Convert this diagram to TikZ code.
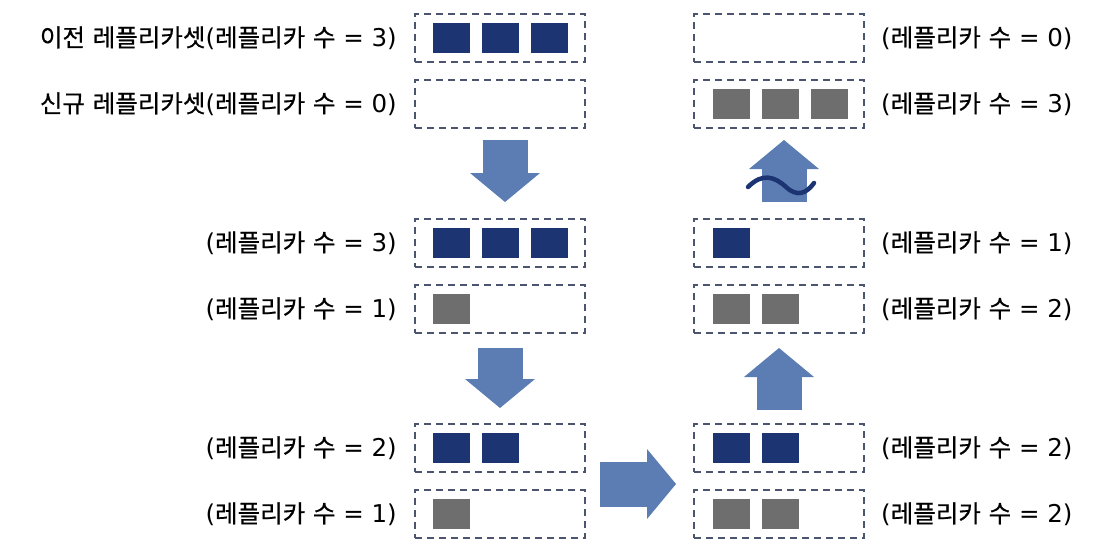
\documentclass[tikz,border=0pt]{standalone}
\usepackage{fontspec}
\setmainfont{DejaVu Sans}
\newfontfamily\krfont{Noto Sans CJK KR}[FakeBold=0.5]
\usepackage{tikz}
\usetikzlibrary{arrows.meta,positioning,calc}

% Hangul syllables in the Korean face, the rest in the main face
\XeTeXinterchartokenstate=1
\newXeTeXintercharclass\hangulclass
\count255="AC00\relax
\loop
  \XeTeXcharclass\count255=\hangulclass
  \advance\count255 by 1\relax
\ifnum\count255<"D7A4\relax
\repeat
\XeTeXinterchartoks 0 \hangulclass = {\begingroup\krfont}
\XeTeXinterchartoks 4095 \hangulclass = {\begingroup\krfont}
\XeTeXinterchartoks \hangulclass 0 = {\endgroup}
\XeTeXinterchartoks \hangulclass 4095 = {\endgroup}

\definecolor{slotline}{HTML}{4B5570}
\definecolor{podnavy}{HTML}{1D3472}
\definecolor{podgray}{HTML}{6E6E6E}
\definecolor{flowblue}{HTML}{5B7DB4}

\begin{document}
\begin{tikzpicture}[
  x=1pt, y=-1pt,
  font=\fontsize{24.5}{28}\selectfont,
  slot/.style={draw=slotline,line width=2.2pt,dash pattern=on 7pt off 5pt,minimum width=170pt,minimum height=48pt,inner sep=0pt,outer sep=0pt},
  navypod/.style={fill=podnavy,minimum width=37pt,minimum height=30pt,inner sep=0pt,outer sep=0pt},
  graypod/.style={fill=podgray,minimum width=37pt,minimum height=30pt,inner sep=0pt,outer sep=0pt},
  lbl/.style={inner sep=0pt},
  flow/.style={draw=flowblue,line width=45pt,-{Triangle[length=29pt,width=70pt,line width=0pt]}},
  wave/.style={draw=podnavy,line width=4.5pt,line cap=round}
]
\useasboundingbox (0,0) rectangle (1110,558);
% left column
\node[slot] (l1) at (500,38) {};
\node[slot,below=18pt of l1] (l2) {};
\node[slot,below=91pt of l2] (l3) {};
\node[slot,below=18pt of l3] (l4) {};
\node[slot,below=91pt of l4] (l5) {};
\node[slot,below=18pt of l5] (l6) {};
% right column
\node[slot,right=109pt of l1] (r1) {};
\node[slot,right=109pt of l2] (r2) {};
\node[slot,right=109pt of l3] (r3) {};
\node[slot,right=109pt of l4] (r4) {};
\node[slot,right=109pt of l5] (r5) {};
\node[slot,right=109pt of l6] (r6) {};

% pods
\node[navypod,right=18pt of l1.west] (l1a) {};
\node[navypod,right=12pt of l1a] (l1b) {};
\node[navypod,right=12pt of l1b] (l1c) {};
\node[navypod,right=18pt of l3.west] (l3a) {};
\node[navypod,right=12pt of l3a] (l3b) {};
\node[navypod,right=12pt of l3b] (l3c) {};
\node[graypod,right=18pt of l4.west] (l4a) {};
\node[navypod,right=18pt of l5.west] (l5a) {};
\node[navypod,right=12pt of l5a] (l5b) {};
\node[graypod,right=18pt of l6.west] (l6a) {};
\node[graypod,right=19pt of r2.west] (r2a) {};
\node[graypod,right=12pt of r2a] (r2b) {};
\node[graypod,right=12pt of r2b] (r2c) {};
\node[navypod,right=19pt of r3.west] (r3a) {};
\node[graypod,right=19pt of r4.west] (r4a) {};
\node[graypod,right=12pt of r4a] (r4b) {};
\node[navypod,right=19pt of r5.west] (r5a) {};
\node[navypod,right=12pt of r5a] (r5b) {};
\node[graypod,right=19pt of r6.west] (r6a) {};
\node[graypod,right=12pt of r6a] (r6b) {};

% labels
\node[lbl,left=18pt of l1] (t1) {이전 레플리카셋(레플리카 수 = 3)};
\node[lbl,left=18pt of l2] (t2) {신규 레플리카셋(레플리카 수 = 0)};
\node[lbl,left=18pt of l3] (t3) {(레플리카 수 = 3)};
\node[lbl,left=18pt of l4] (t4) {(레플리카 수 = 1)};
\node[lbl,left=18pt of l5] (t5) {(레플리카 수 = 2)};
\node[lbl,left=18pt of l6] (t6) {(레플리카 수 = 1)};
\node[lbl,right=17pt of r1] (u1) {(레플리카 수 = 0)};
\node[lbl,right=17pt of r2] (u2) {(레플리카 수 = 3)};
\node[lbl,right=17pt of r3] (u3) {(레플리카 수 = 1)};
\node[lbl,right=17pt of r4] (u4) {(레플리카 수 = 2)};
\node[lbl,right=17pt of r5] (u5) {(레플리카 수 = 2)};
\node[lbl,right=17pt of r6] (u6) {(레플리카 수 = 2)};

% flow arrows
\draw[flow,shorten <=12pt,shorten >=17pt] ([xshift=5pt]l2.south) -- ([xshift=5pt]l3.north);
\draw[flow,shorten <=15pt,shorten >=16pt] (l4.south) -- (l5.north);
\draw[flow,shorten <=15pt,shorten >=18pt] ([yshift=-3pt]$(l5.south east)!0.5!(l6.north east)$) -- ([yshift=-3pt]$(r5.south west)!0.5!(r6.north west)$);
\draw[flow,shorten <=14pt,shorten >=15pt] (r5.north) -- (r4.south);
\draw[flow,shorten <=17pt,shorten >=12pt] ([xshift=5pt]r3.north) -- ([xshift=5pt]r2.south);
\draw[wave] (748,187) .. controls (762,173) and (774,176) .. (786,187) .. controls (797,197) and (806,194) .. (814,183);
\end{tikzpicture}
\end{document}
